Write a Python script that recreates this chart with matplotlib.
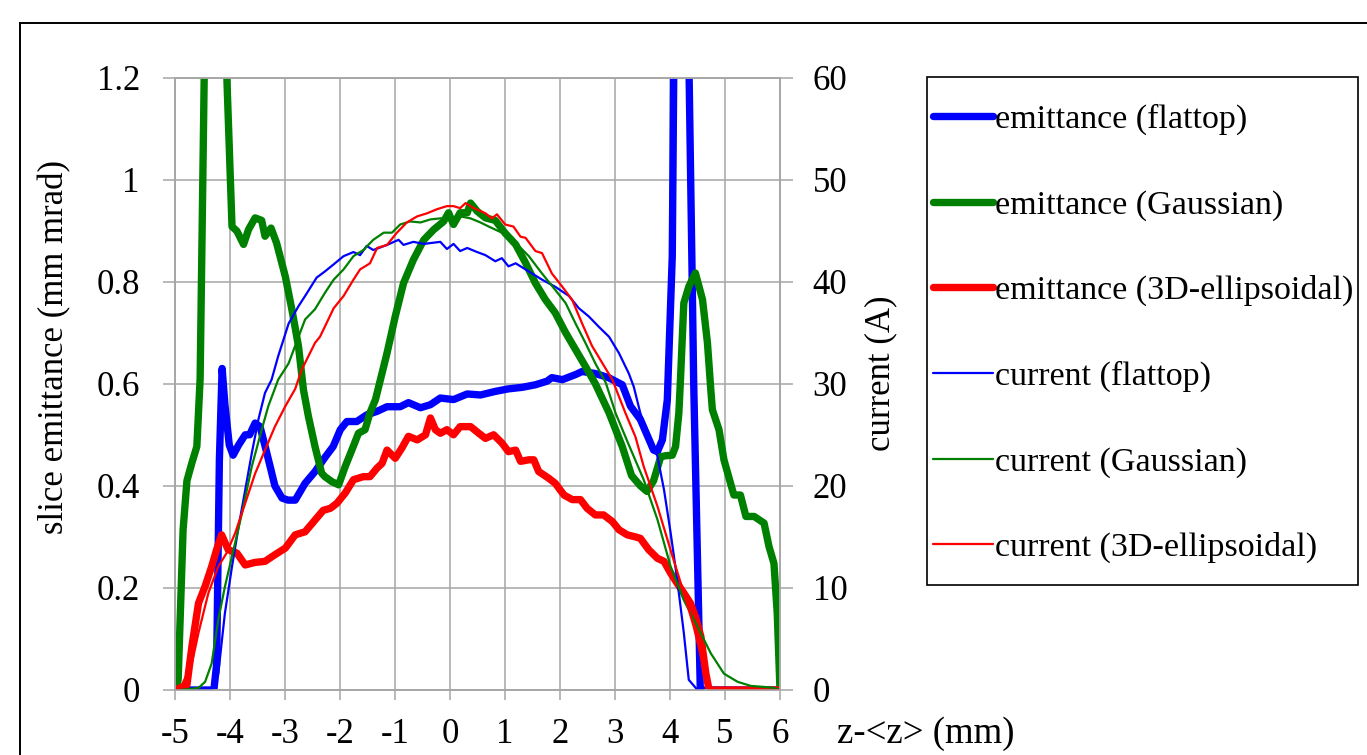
import matplotlib
matplotlib.use('Agg')
import matplotlib.pyplot as plt
from matplotlib.lines import Line2D
from matplotlib.patches import Rectangle

plt.rcParams['font.family'] = ['Liberation Serif', 'DejaVu Serif']
plt.rcParams['axes.unicode_minus'] = False

# slice emittance (mm mrad), left axis
emit_flat_x = [-5.0, -4.6, -4.3, -4.25, -4.2, -4.15, -4.1, -4.02, -3.95, -3.85, -3.73, -3.65, -3.55, -3.46,
               -3.35, -3.19, -3.06, -2.95, -2.82, -2.64, -2.46, -2.27, -2.13, -2.0, -1.88, -1.70, -1.52,
               -1.33, -1.15, -0.91, -0.76, -0.54, -0.36, -0.18, 0.06, 0.31, 0.55, 0.82, 1.06, 1.31, 1.55,
               1.76, 1.85, 2.04, 2.28, 2.40, 2.64, 2.88, 3.13, 3.28, 3.46, 3.70, 3.77, 3.86, 3.95, 4.04,
               4.07, 4.2, 4.34, 4.40, 4.43, 4.55, 4.6, 6.0]
emit_flat_y = [0, 0, 0, 0.05, 0.45, 0.63, 0.56, 0.48, 0.46, 0.48, 0.50, 0.50, 0.523, 0.516,
               0.47, 0.40, 0.376, 0.372, 0.372, 0.405, 0.428, 0.457, 0.477, 0.51, 0.526, 0.526, 0.539,
               0.546, 0.555, 0.555, 0.563, 0.553, 0.559, 0.572, 0.569, 0.58, 0.578, 0.585, 0.59, 0.593, 0.598,
               0.605, 0.612, 0.608, 0.618, 0.624, 0.62, 0.612, 0.598, 0.556, 0.53, 0.47, 0.467, 0.49, 0.569, 0.85,
               1.25, 3.0, 1.25, 0.82, 0.6, 0.0, 0, 0]

emit_gauss_x = [-5.0, -4.95, -4.89, -4.86, -4.79, -4.70, -4.61, -4.58, -4.55, -4.47, -4.3, -4.08, -3.97,
                -3.88, -3.76, -3.67, -3.55, -3.43, -3.37, -3.26, -3.16, -3.0, -2.88, -2.76, -2.67, -2.58,
                -2.46, -2.34, -2.28, -2.15, -2.03, -1.91, -1.79, -1.67, -1.55, -1.46, -1.36, -1.27, -1.15,
                -1.0, -0.85, -0.67, -0.48, -0.30, -0.12, -0.03, 0.06, 0.18, 0.31, 0.37, 0.49, 0.64, 0.82,
                1.0, 1.19, 1.37, 1.55, 1.73, 1.91, 2.10, 2.28, 2.46, 2.64, 2.89, 3.13, 3.30, 3.46, 3.58,
                3.70, 3.83, 3.92, 4.04, 4.10, 4.16, 4.19, 4.25, 4.34, 4.46, 4.59, 4.68, 4.74, 4.77, 4.89,
                4.98, 5.10, 5.16, 5.28, 5.38, 5.53, 5.71, 5.80, 5.89, 5.95, 6.0]
emit_gauss_y = [0, 0.02, 0.216, 0.314, 0.41, 0.445, 0.477, 0.543, 0.61, 1.25, 3.0, 1.25, 0.908,
                0.899, 0.873, 0.902, 0.925, 0.92, 0.889, 0.905, 0.876, 0.81, 0.745, 0.673, 0.588, 0.536,
                0.477, 0.425, 0.418, 0.408, 0.402, 0.438, 0.47, 0.503, 0.51, 0.543, 0.569, 0.608, 0.66,
                0.732, 0.797, 0.843, 0.882, 0.902, 0.918, 0.935, 0.912, 0.935, 0.935, 0.954, 0.938, 0.925, 0.92,
                0.895, 0.873, 0.837, 0.797, 0.765, 0.739, 0.70, 0.667, 0.634, 0.60, 0.543, 0.477, 0.42, 0.40, 0.389,
                0.41, 0.457, 0.459, 0.46, 0.477, 0.543, 0.61, 0.758, 0.79, 0.817, 0.765, 0.68, 0.59, 0.549, 0.51,
                0.451, 0.405, 0.382, 0.382, 0.34, 0.34, 0.327, 0.281, 0.248, 0.15, 0.0]

emit_ell_x = [-5.0, -4.79, -4.70, -4.58, -4.46, -4.34, -4.25, -4.16, -4.04, -3.88, -3.73, -3.55, -3.37,
              -3.19, -3.0, -2.82, -2.64, -2.46, -2.31, -2.18, -2.06, -1.91, -1.76, -1.58, -1.46, -1.33,
              -1.24, -1.15, -1.0, -0.88, -0.76, -0.60, -0.45, -0.36, -0.27, -0.18, -0.06, 0.06, 0.18,
              0.37, 0.52, 0.64, 0.79, 0.94, 1.06, 1.19, 1.28, 1.43, 1.52, 1.61, 1.79, 1.91, 2.07, 2.22,
              2.37, 2.49, 2.64, 2.79, 2.95, 3.07, 3.22, 3.37, 3.46, 3.61, 3.77, 3.89, 4.01, 4.13, 4.25,
              4.37, 4.46, 4.56, 4.65, 4.71, 6.0]
emit_ell_y = [0, 0.01, 0.085, 0.17, 0.203, 0.242, 0.275, 0.304, 0.275, 0.268, 0.245, 0.25, 0.252,
              0.265, 0.278, 0.304, 0.31, 0.333, 0.352, 0.356, 0.366, 0.386, 0.412, 0.418, 0.418, 0.435,
              0.444, 0.47, 0.454, 0.474, 0.497, 0.49, 0.50, 0.533, 0.51, 0.503, 0.51, 0.50, 0.516,
              0.516, 0.503, 0.493, 0.50, 0.484, 0.467, 0.47, 0.448, 0.451, 0.451, 0.428, 0.415, 0.405, 0.382, 0.373,
              0.373, 0.356, 0.343, 0.343, 0.33, 0.314, 0.304, 0.30, 0.297, 0.275, 0.258, 0.252, 0.229, 0.209, 0.19,
              0.17, 0.144, 0.105, 0.033, 0.0, 0.0]

# current (A), right axis
cur_flat_x = [-5.0, -4.6, -4.34, -4.22, -4.10, -3.97, -3.85, -3.73, -3.61, -3.49, -3.37, -3.25, -3.13,
              -2.94, -2.76, -2.64, -2.43, -2.28, -2.12, -1.94, -1.76, -1.64, -1.52, -1.40, -1.15, -0.94,
              -0.85, -0.67, -0.48, -0.18, -0.06, 0.06, 0.18, 0.31, 0.49, 0.64, 0.82, 0.94, 1.06, 1.19,
              1.43, 1.67, 1.91, 2.16, 2.34, 2.52, 2.70, 2.89, 3.07, 3.25, 3.34, 3.46, 3.64, 3.77, 3.89,
              4.01, 4.13, 4.25, 4.34, 4.50, 4.6]
cur_flat_y = [0, 0, 0, 1.6, 7.5, 12.1, 16.0, 19.6, 23.2, 26.5, 29.1, 30.4, 32.7,
              35.9, 37.6, 38.6, 40.4, 41.0, 41.7, 42.5, 42.9, 42.6, 43.5, 43.1, 43.6, 44.1,
              43.6, 43.9, 43.7, 43.9, 43.2, 43.7, 43.0, 43.3, 42.9, 42.6, 42.0, 42.3, 41.5, 41.8,
              41.0, 40.2, 39.5, 38.6, 37.4, 36.6, 35.6, 34.6, 33.0, 31.0, 29.7, 27.1, 24.5, 22.9, 19.6,
              15.4, 10.8, 5.6, 1.0, 0, 0]

cur_gauss_x = [-5.0, -4.9, -4.58, -4.46, -4.34, -4.22, -4.10, -3.97, -3.79, -3.61, -3.43, -3.31, -3.13,
               -2.94, -2.76, -2.64, -2.46, -2.28, -2.12, -1.94, -1.76, -1.58, -1.40, -1.21, -1.06, -0.91,
               -0.73, -0.54, -0.36, -0.18, 0.0, 0.18, 0.37, 0.55, 0.70, 0.94, 1.19, 1.43, 1.67, 1.91,
               2.10, 2.28, 2.46, 2.64, 2.83, 3.01, 3.25, 3.52, 3.77, 4.01, 4.25, 4.50, 4.74, 4.98, 5.23,
               5.47, 5.71, 5.89, 6.0]
cur_gauss_y = [0, 0, 0.2, 0.8, 2.6, 6.9, 10.1, 13.1, 17.3, 21.9, 25.5, 27.8, 30.4,
               32.0, 34.6, 36.3, 37.3, 38.9, 40.2, 41.2, 42.5, 43.1, 44.1, 44.8, 44.8, 45.6,
               45.9, 45.8, 46.1, 46.2, 46.2, 46.4, 46.2, 45.8, 45.4, 44.8, 43.8, 42.5, 40.8, 39.2,
               37.9, 35.9, 34.0, 32.0, 30.1, 27.1, 24.0, 20.6, 16.7, 12.1, 8.8, 6.2, 3.6, 1.6, 0.8,
               0.4, 0.3, 0.2, 0.0]

cur_ell_x = [-5.0, -4.9, -4.70, -4.58, -4.40, -4.22, -4.07, -3.91, -3.73, -3.55, -3.37, -3.19, -3.0,
             -2.82, -2.70, -2.58, -2.46, -2.37, -2.28, -2.12, -1.94, -1.76, -1.64, -1.46, -1.33, -1.15,
             -0.97, -0.79, -0.60, -0.42, -0.24, -0.06, 0.06, 0.18, 0.28, 0.43, 0.64, 0.76, 0.85, 1.0,
             1.15, 1.28, 1.37, 1.55, 1.67, 1.85, 2.04, 2.22, 2.40, 2.58, 2.77, 2.95, 3.19, 3.37, 3.52,
             3.77, 4.01, 4.25, 4.43, 4.56, 4.65, 4.71, 6.0]
cur_ell_y = [0, 0.3, 2.6, 5.6, 9.5, 12.1, 13.4, 15.4, 18.3, 21.2, 23.5, 25.8, 27.8,
             29.5, 31.4, 32.7, 34.0, 34.6, 35.6, 37.4, 38.6, 40.2, 41.2, 41.8, 43.3, 43.6,
             44.8, 45.8, 46.4, 46.7, 47.1, 47.4, 47.4, 47.2, 47.7, 47.2, 46.7, 46.2, 46.6, 45.6,
             45.4, 44.4, 44.3, 43.0, 42.8, 40.8, 39.5, 38.2, 35.9, 33.7, 32.0, 30.4, 27.1, 24.8, 21.9,
             18.0, 13.7, 9.5, 6.2, 3.3, 0.7, 0, 0]

x_ticks = [-5, -4, -3, -2, -1, 0, 1, 2, 3, 4, 5, 6]
emit_ticks = [0, 0.2, 0.4, 0.6, 0.8, 1.0, 1.2]
emit_tick_labels = ['0', '0.2', '0.4', '0.6', '0.8', '1', '1.2']
cur_ticks = [0, 10, 20, 30, 40, 50, 60]

labels = ['emittance (flattop)', 'emittance (Gaussian)', 'emittance (3D-ellipsoidal)',
          'current (flattop)', 'current (Gaussian)', 'current (3D-ellipsoidal)']

grid_c = '#a6a6a6'
fs = 25
W, H = 1367, 755

fig = plt.figure(figsize=(W / 100, H / 100), dpi=100)
ax = fig.add_axes([175.4 / W, 65 / H, 604.6 / W, 612.5 / H])
ax2 = ax.twinx()

thick = dict(lw=5.3, solid_joinstyle='round', solid_capstyle='round')
thin = dict(lw=1.6, solid_joinstyle='round', solid_capstyle='round')

l1, = ax.plot(emit_flat_x, emit_flat_y, color='#0000ff', **thick)
l2, = ax.plot(emit_gauss_x, emit_gauss_y, color='#008000', **thick)
l3, = ax.plot(emit_ell_x, emit_ell_y, color='#ff0000', **thick)
l4, = ax2.plot(cur_flat_x, cur_flat_y, color='#0000ff', **thin)
l5, = ax2.plot(cur_gauss_x, cur_gauss_y, color='#008000', **thin)
l6, = ax2.plot(cur_ell_x, cur_ell_y, color='#ff0000', **thin)

ax.set_xlim(-5, 6)
ax.set_ylim(0, 1.2)
ax2.set_ylim(0, 60)
ax.set_xticks(x_ticks)
ax.set_yticks(emit_ticks)
ax.set_yticklabels(emit_tick_labels)
ax2.set_yticks(cur_ticks)

ax.set_axisbelow(True)
ax.grid(True, color=grid_c, lw=1.1)
for a in (ax, ax2):
    for s in a.spines.values():
        s.set_color(grid_c)
        s.set_linewidth(1.1)

ax.tick_params(axis='x', direction='out', length=7, width=1.1, color=grid_c, labelsize=fs, pad=13)
ax.tick_params(axis='y', direction='out', length=8.6, width=1.1, color=grid_c, labelsize=fs, pad=17)
ax2.tick_params(axis='y', direction='out', length=9.4, width=1.1, color=grid_c, labelsize=fs, pad=14)

ax.set_ylabel('slice emittance (mm mrad)', fontsize=fs)
ax.yaxis.set_label_coords(-0.172, 0.56)
ax2.set_ylabel('current (A)', fontsize=fs)
ax2.yaxis.set_label_coords(1.139, 0.5175)
ax.set_xlabel('z-<z> (mm)', fontsize=26.5)
ax.xaxis.set_label_coords(1.2407, -0.043)

fig.legend([l1, l2, l3, l4, l5, l6], labels, loc='upper left',
           bbox_to_anchor=(933 / W, 1 - 104 / H), frameon=False, fontsize=24.5,
           handlelength=1.75, handletextpad=0.08, labelspacing=1.6, borderpad=0, borderaxespad=0)
fig.patches.append(Rectangle((927 / W, 1 - 585 / H), 431 / W, 508 / H, transform=fig.transFigure,
                             fill=False, edgecolor='black', lw=1.2))

# chart area border
fig.lines.append(Line2D([20 / W, 1], [1 - 23 / H, 1 - 23 / H], transform=fig.transFigure, color='black', lw=1.4))
fig.lines.append(Line2D([20 / W, 20 / W], [0, 1 - 23 / H], transform=fig.transFigure, color='black', lw=1.4))

fig.savefig('out.png', dpi=100)
